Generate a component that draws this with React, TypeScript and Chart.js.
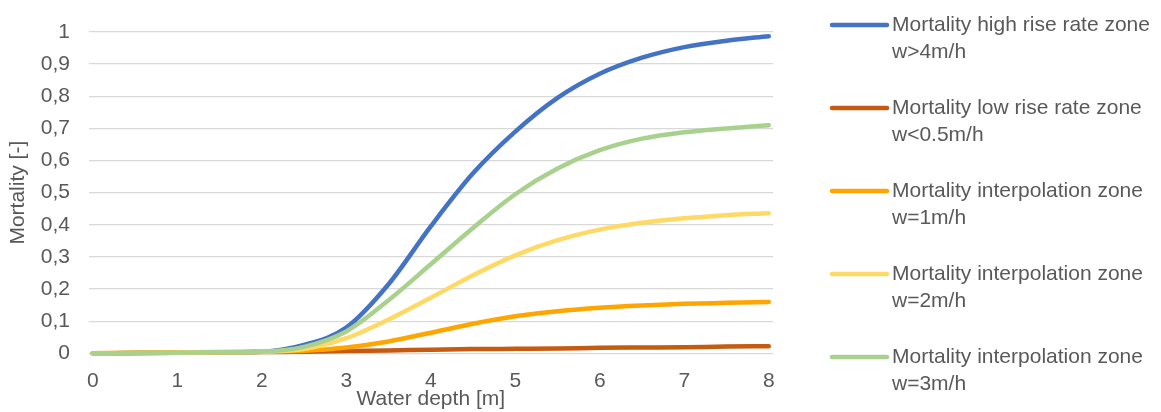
import React, { useEffect, useRef } from "react";
import { Chart, registerables } from "chart.js";

Chart.register(...registerables);

// ---- Data ----
const waterDepth = [0, 0.5, 1, 1.5, 2, 2.5, 3, 3.5, 4, 4.5, 5, 5.5, 6, 6.5, 7, 7.5, 8];

const highRise = [0, 0.001, 0.002, 0.003, 0.005, 0.026, 0.08, 0.215, 0.395, 0.56, 0.69, 0.795, 0.87, 0.92, 0.953, 0.973, 0.987];
const lowRise = [0, 0.001, 0.002, 0.003, 0.004, 0.005, 0.007, 0.009, 0.011, 0.013, 0.014, 0.015, 0.017, 0.018, 0.019, 0.021, 0.022];
const interp1 = [0, 0.002, 0.003, 0.004, 0.006, 0.008, 0.018, 0.037, 0.064, 0.092, 0.115, 0.131, 0.142, 0.149, 0.154, 0.157, 0.16];
const interp2 = [0, 0.001, 0.002, 0.003, 0.005, 0.013, 0.047, 0.105, 0.173, 0.243, 0.305, 0.352, 0.385, 0.406, 0.42, 0.43, 0.436];
const interp3 = [0, 0.001, 0.002, 0.003, 0.005, 0.02, 0.068, 0.165, 0.277, 0.39, 0.495, 0.575, 0.632, 0.668, 0.688, 0.7, 0.71];

const seriesValues = [highRise, lowRise, interp1, interp2, interp3];
const seriesLabels = [
  ["Mortality high rise rate zone", "w>4m/h"],
  ["Mortality low rise rate zone", "w<0.5m/h"],
  ["Mortality interpolation zone", "w=1m/h"],
  ["Mortality interpolation zone", "w=2m/h"],
  ["Mortality interpolation zone", "w=3m/h"],
];
const seriesColors = ["#4472C4", "#C55A11", "#FFA500", "#FFD966", "#A9D18E"];

const xTickValues = [0, 1, 2, 3, 4, 5, 6, 7, 8];
const xTitle = "Water depth [m]";
const yTitle = "Mortality [-]";

const FONT = "'Liberation Sans', Arial, sans-serif";
const FONT_SIZE = 21;
const TEXT_COLOR = "#595959";

const legendPlugin = {
  id: "sideLegend",
  afterDraw(chart: any) {
    const ctx = chart.ctx;
    ctx.save();
    const x0 = 832;
    const x1 = 887;
    const tx = 892;
    const startY = 25;
    const step = 83;
    const lineGap = 27;
    chart.data.datasets.forEach((ds: any, i: number) => {
      const y = startY + i * step;
      ctx.beginPath();
      ctx.strokeStyle = ds.borderColor;
      ctx.lineWidth = 4.5;
      ctx.lineCap = "round";
      ctx.moveTo(x0, y);
      ctx.lineTo(x1, y);
      ctx.stroke();
      ctx.fillStyle = TEXT_COLOR;
      ctx.font = `${FONT_SIZE}px ${FONT}`;
      ctx.textAlign = "left";
      ctx.textBaseline = "middle";
      const lines: string[] = ds.legendLines;
      lines.forEach((t, j) => ctx.fillText(t, tx, y + j * lineGap));
    });
    ctx.restore();
  },
};

export default function App() {
  const ref = useRef<HTMLCanvasElement | null>(null);

  useEffect(() => {
    document.body.style.margin = "0";
    if (!ref.current) return;
    Chart.defaults.font.family = FONT;
    Chart.defaults.font.size = FONT_SIZE;
    Chart.defaults.color = TEXT_COLOR;

    const datasets = seriesValues.map((vals, i) => ({
      label: seriesLabels[i].join(" "),
      legendLines: seriesLabels[i],
      data: waterDepth.map((x, k) => ({ x, y: vals[k] })),
      borderColor: seriesColors[i],
      backgroundColor: seriesColors[i],
      borderWidth: 4.5,
      pointRadius: 0,
      pointHoverRadius: 0,
      cubicInterpolationMode: "monotone" as const,
      borderCapStyle: "round" as const,
      borderJoinStyle: "round" as const,
      fill: false,
      clip: false as any,
      order: seriesValues.length - i,
    }));

    const chart = new Chart(ref.current, {
      type: "line",
      data: { datasets: datasets as any },
      plugins: [legendPlugin],
      options: {
        animation: false,
        responsive: false,
        devicePixelRatio: 1,
        layout: { padding: { left: 0, top: 32, right: 388, bottom: 0 } },
        plugins: {
          legend: { display: false },
          tooltip: { enabled: false },
        },
        scales: {
          x: {
            type: "linear",
            min: -0.05,
            max: 8.05,
            grid: { display: false, drawTicks: false },
            border: { display: false },
            afterBuildTicks: (axis: any) => {
              axis.ticks = xTickValues.map((v) => ({ value: v }));
            },
            afterFit: (s: any) => {
              s.height = 58.7;
            },
            ticks: {
              padding: 15,
              autoSkip: false,
              maxRotation: 0,
              callback: (v: any) => String(v),
            },
            title: {
              display: true,
              text: xTitle,
              padding: { top: 0, bottom: 0.5 },
              font: { size: FONT_SIZE },
            },
          },
          y: {
            type: "linear",
            min: 0,
            max: 1,
            grid: { color: "#d9d9d9", lineWidth: 1.3, drawTicks: false },
            border: { display: false },
            afterFit: (s: any) => {
              s.width = 88.5;
            },
            ticks: {
              stepSize: 0.1,
              padding: 18.5,
              callback: (v: any) => String(Math.round(Number(v) * 10) / 10).replace(".", ","),
            },
            title: {
              display: true,
              text: yTitle,
              padding: { top: 6, bottom: 0 },
              font: { size: FONT_SIZE },
            },
          },
        },
      },
    });
    return () => chart.destroy();
  }, []);

  return (
    <div style={{ width: 1161, height: 412, background: "#fff" }}>
      <canvas ref={ref} width={1161} height={412} style={{ width: 1161, height: 412, display: "block" }} />
    </div>
  );
}
